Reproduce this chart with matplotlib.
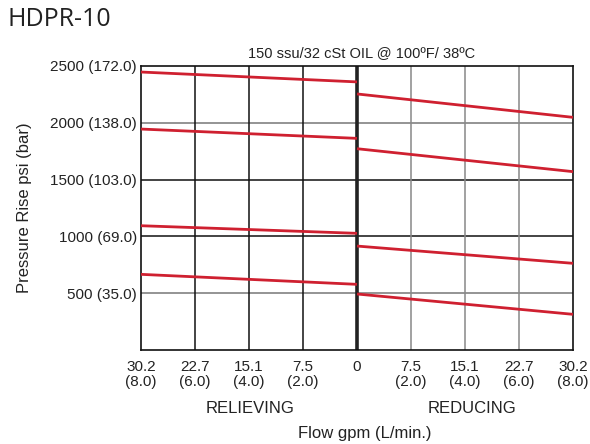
import matplotlib
matplotlib.use("Agg")
import matplotlib.pyplot as plt

plt.rcParams["font.family"] = ["Liberation Sans", "DejaVu Sans"]

# Datos (psi), flujo en unidades de eje -8..8
relieving_x = [-8, 0]
relieving_lines = [
    [2447, 2360],
    [1945, 1863],
    [1094, 1027],
    [666, 578],
]
reducing_x = [0, 8]
reducing_lines = [
    [2254, 2048],
    [1772, 1570],
    [915, 763],
    [493, 314],
]
x_ticks = [-8, -6, -4, -2, 0, 2, 4, 6, 8]
x_ticklabels = ["30.2\n(8.0)", "22.7\n(6.0)", "15.1\n(4.0)", "7.5\n(2.0)", "0\n",
                "7.5\n(2.0)", "15.1\n(4.0)", "22.7\n(6.0)", "30.2\n(8.0)"]
y_ticks = [500, 1000, 1500, 2000, 2500]
y_ticklabels = ["500 (35.0)", "1000 (69.0)", "1500 (103.0)", "2000 (138.0)",
                "2500 (172.0)"]

RED = "#cf2030"

fig = plt.figure(figsize=(5.9, 4.44), dpi=100)
ax = fig.add_axes([141 / 590, 94 / 444, 432 / 590, 284 / 444])
ax.set_xlim(-8, 8)
ax.set_ylim(0, 2500)

# Rejilla
h_colors = {500: "#777777", 1000: "#111111", 1500: "#111111", 2000: "#777777"}
for yv, c in h_colors.items():
    ax.axhline(yv, color=c, lw=1.1, zorder=1)
for xv in x_ticks[1:-1]:
    if xv == 0:
        continue
    c = "#111111" if xv < 0 else "#888888"
    ax.axvline(xv, color=c, lw=1.1, zorder=1)
ax.axvline(0, color="#222222", lw=2.6, zorder=2)

for ys in relieving_lines:
    ax.plot(relieving_x, ys, color=RED, lw=2, zorder=3, solid_capstyle="butt")
for ys in reducing_lines:
    ax.plot(reducing_x, ys, color=RED, lw=2, zorder=3, solid_capstyle="butt")

for s in ax.spines.values():
    s.set_color("#111111")
    s.set_linewidth(1.2)

ax.set_xticks(x_ticks)
ax.set_xticklabels(x_ticklabels, fontsize=11, color="#222222", linespacing=1.1)
ax.set_yticks(y_ticks)
ax.set_yticklabels(y_ticklabels, fontsize=11, color="#222222")
ax.tick_params(axis="both", length=0, pad=3)
ax.tick_params(axis="x", pad=7)

ax.set_ylabel("Pressure Rise psi (bar)", fontsize=12, color="#222222", labelpad=13)

fig.text(8 / 590, 1 - 20 / 444, "HDPR-10", fontsize=18, family=["Open Sans", "DejaVu Sans"],
         color="#222222", va="center", ha="left")
fig.text(362 / 590, 1 - 53 / 444, "150 ssu/32 cSt OIL @ 100ºF/ 38ºC", fontsize=10.5,
         color="#222222", ha="center", va="center")
fig.text(250 / 590, 1 - 408 / 444, "RELIEVING", fontsize=12, color="#222222",
         ha="center", va="center")
fig.text(472 / 590, 1 - 408 / 444, "REDUCING", fontsize=12, color="#222222",
         ha="center", va="center")
fig.text(365 / 590, 1 - 433 / 444, "Flow gpm (L/min.)", fontsize=12, color="#222222",
         ha="center", va="center")

fig.savefig("out.png", dpi=100)
